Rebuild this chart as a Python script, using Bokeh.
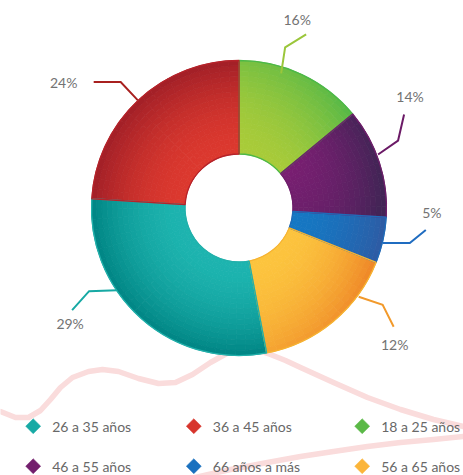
import math
from bokeh.plotting import figure
from bokeh.models import Range1d, ColumnDataSource
from bokeh.core.properties import value
from bokeh.embed import file_html
from bokeh.resources import INLINE

# ---------------- data ----------------
# slices, clockwise from 12 o'clock
age_groups = ["18 a 25 años", "46 a 55 años", "66 años a más",
              "56 a 65 años", "26 a 35 años", "36 a 45 años"]
shares = [14, 12, 5, 16, 29, 24]
pct_labels = ["16%", "14%", "5%", "12%", "29%", "24%"]

legend_labels = ["26 a 35 años", "36 a 45 años", "18 a 25 años",
                 "46 a 55 años", "66 años a más", "56 a 65 años"]

# decorative ribbon behind the chart (page pixel coords)
ribbon_a_x = [0, 15, 28, 40, 50, 60, 72, 88, 102, 118, 138, 158, 175, 192, 210, 228, 245]
ribbon_a_y = [411, 417, 417, 410, 399, 387, 377, 371, 369, 371, 378, 383, 382, 374, 362, 352, 346]
ribbon_b_x = [255, 270, 285, 300, 333, 367, 400, 433, 463]
ribbon_b_y = [349, 354, 360, 367, 382, 397, 409, 419, 426]
ribbon_c_x = [190, 230, 267, 300, 333, 367, 400, 433, 463]
ribbon_c_y = [478, 469, 462, 456, 451, 446, 442, 439, 436]

# ---------------- styles ----------------
colors = {
    "26 a 35 años": ("#1db4af", "#008584", "#22b0ab"),
    "36 a 45 años": ("#dc382e", "#a11f27", "#b5232a"),
    "18 a 25 años": ("#a9cb39", "#55b847", "#4cb848"),
    "46 a 55 años": ("#7a1e72", "#432456", "#6e1e6a"),
    "66 años a más": ("#1577c3", "#2e5ba3", "#1f6bb8"),
    "56 a 65 años": ("#fcc43e", "#ee8426", "#f6b331"),
}
legend_colors = {
    "26 a 35 años": "#17aaa5", "36 a 45 años": "#d7352c", "18 a 25 años": "#5bb947",
    "46 a 55 años": "#731f6d", "66 años a más": "#1a71bf", "56 a 65 años": "#fbb53a",
}
leader_colors = {
    "26 a 35 años": "#17a9a4", "36 a 45 años": "#a8201f", "18 a 25 años": "#9bc63b",
    "46 a 55 años": "#6b1a66", "66 años a más": "#1f6cc0", "56 a 65 años": "#f29a2c",
}
# leader layout: anchor fraction within slice, anchor radius, elbow offset, end offset, label offset (px)
leader_layout = {
    "18 a 25 años": (0.345, 141, (4, -26), (21, -13), (-9, -15)),
    "46 a 55 años": (0.43, 149, (20, -14), (6, -26), (6, -18)),
    "66 años a más": (0.56, 148, (27, 0), (16, -13), (6, -18)),
    "56 a 65 años": (0.26, 149, (24, 8), (11, 22), (1, 18)),
    "26 a 35 años": (0.64, 147, (-28, 1), (-17, 19), (-2, 13)),
    "36 a 45 años": (0.50, 148, (-17, -18), (-27, 0), (-30, 0)),
}

FONT = "Lato"
W, H = 463, 475
CXp, CYp = 238.5, 207.5
R_OUT, R_IN = 147.5, 54.0


def P(px, py):
    return px, -py


def hex2rgb(h):
    h = h.lstrip("#")
    return [int(h[i:i + 2], 16) for i in (0, 2, 4)]


def mix(c0, c1, f):
    a, b = hex2rgb(c0), hex2rgb(c1)
    f = max(0.0, min(1.0, f))
    return "#%02x%02x%02x" % tuple(int(round(a[i] + (b[i] - a[i]) * f)) for i in range(3))


def shade(name, t, s):
    if name == "18 a 25 años":
        return 0.55 * t ** 2 + 0.45 * s * t
    if name == "46 a 55 años":
        return 0.9 * t ** 2 + 0.25 * s
    if name == "56 a 65 años":
        return t ** 1.8 * (1 - 0.5 * s)
    return t ** 1.8


p = figure(width=W, height=H, output_backend="svg", toolbar_location=None,
           x_range=Range1d(0, W), y_range=Range1d(-H, 0),
           min_border=0, min_border_left=0, min_border_right=0,
           min_border_top=0, min_border_bottom=0)
p.axis.visible = False
p.grid.visible = False
p.outline_line_color = None
p.background_fill_color = "white"
p.border_fill_color = "white"

# ribbon
for rx, ry in ((ribbon_a_x, ribbon_a_y), (ribbon_b_x, ribbon_b_y), (ribbon_c_x, ribbon_c_y)):
    p.line([x for x in rx], [-y for y in ry], line_color="#fadcdc", line_width=5.5,
           line_join="round", line_cap="round")

cx, cy = P(CXp, CYp)

# slices with simulated shading
cells = dict(sa=[], ea=[], ri=[], ro=[], c=[])
outlines = dict(sa=[], ea=[], c=[])
total = float(sum(shares))
start = 0.0
bounds = []
K = 18
for name, val in zip(age_groups, shares):
    span = 360.0 * val / total
    th0, th1 = start, start + span
    bounds.append((th0, th1))
    M = max(3, int(span / 4))
    c0, c1, border = colors[name]
    for k in range(K):
        ra = R_IN + (R_OUT - R_IN) * k / K
        rb = R_IN + (R_OUT - R_IN) * (k + 1) / K
        t = (k + 0.5) / K
        for m in range(M):
            ta = th0 + span * m / M
            tb = th0 + span * (m + 1) / M
            s = (m + 0.5) / M
            cells["sa"].append(math.radians(90 - ta))
            cells["ea"].append(math.radians(90 - tb))
            cells["ri"].append(ra)
            cells["ro"].append(rb)
            cells["c"].append(mix(c0, c1, shade(name, t, s)))
    outlines["sa"].append(math.radians(90 - th0))
    outlines["ea"].append(math.radians(90 - th1))
    outlines["c"].append(border)
    start = th1

src = ColumnDataSource(cells)
p.annular_wedge(x=cx, y=cy, inner_radius="ri", outer_radius="ro",
                start_angle="sa", end_angle="ea", direction="clock",
                fill_color="c", line_color="c", line_width=0.8, source=src)
p.annular_wedge(x=cx, y=cy, inner_radius=R_IN, outer_radius=R_OUT,
                start_angle="sa", end_angle="ea", direction="clock",
                fill_alpha=0, line_color="c", line_width=1.3,
                source=ColumnDataSource(outlines))

# leaders and percentage labels
lab = dict(x=[], y=[], t=[])
for name, (th0, th1), pct in zip(age_groups, bounds, pct_labels):
    frac, rad, d1, d2, dl = leader_layout[name]
    ang = math.radians(th0 + frac * (th1 - th0))
    sx = CXp + rad * math.sin(ang)
    sy = CYp - rad * math.cos(ang)
    ex1, ey1 = sx + d1[0], sy + d1[1]
    ex2, ey2 = ex1 + d2[0], ey1 + d2[1]
    p.line([sx, ex1, ex2], [-sy, -ey1, -ey2], line_color=leader_colors[name],
           line_width=2, line_join="miter")
    lab["x"].append(ex2 + dl[0])
    lab["y"].append(-(ey2 + dl[1]))
    lab["t"].append(pct)

p.text(x="x", y="y", text="t", source=ColumnDataSource(lab),
       text_font=value(FONT), text_font_size="14px", text_color="#737373",
       text_align="center", text_baseline="middle")

# legend
leg_cols = [32.7, 193.3, 361.7]
leg_rows = [425.7, 465.7]
lx, ly, lc, tx = [], [], [], []
for i, name in enumerate(legend_labels):
    r, c = divmod(i, 3)
    lx.append(leg_cols[c])
    ly.append(-leg_rows[r])
    lc.append(legend_colors[name])
    tx.append(leg_cols[c] + 19)
leg_src = ColumnDataSource(dict(x=lx, y=ly, c=lc, tx=tx, t=legend_labels))
p.scatter(x="x", y="y", marker="square", size=10.6, angle=math.pi / 4,
          fill_color="c", line_color="c", line_width=0.5, source=leg_src)
p.text(x="tx", y="y", text="t", source=leg_src, text_font=value(FONT),
       text_font_size="14px", text_color="#686868", text_align="left",
       text_baseline="middle")

open("out.html", "w").write(file_html(p, INLINE))
